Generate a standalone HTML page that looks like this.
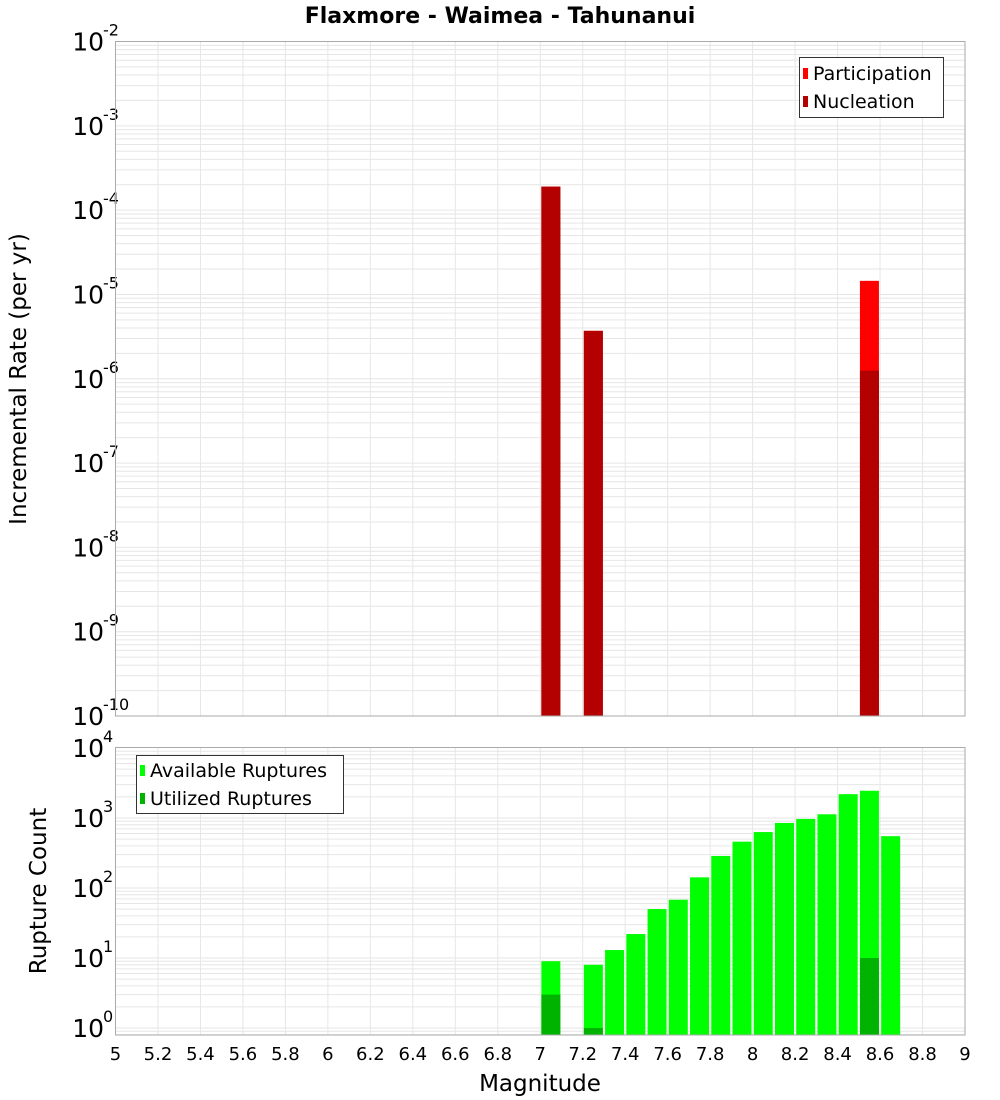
<!DOCTYPE html>
<html><head><meta charset="utf-8"><style>
body{margin:0;background:#fff;}
svg{display:block;font-family:"DejaVu Sans","Liberation Sans",sans-serif;}
</style></head><body>
<svg id="chart" width="1000" height="1100" viewBox="0 0 1000 1100">
<text x="500" y="23" text-anchor="middle" font-size="22" font-weight="bold">Flaxmore - Waimea - Tahunanui</text>
<g id="top"></g>
<g id="bot"></g>
</svg>
<script>
// Top panel data
const rateMags = [7.0, 7.2, 8.5];
const participation = [1.9e-4, 3.7e-6, 1.45e-5];
const nucleation = [1.9e-4, 3.7e-6, 1.25e-6];
// Bottom panel data
const countMags = [7.0, 7.2, 7.3, 7.4, 7.5, 7.6, 7.7, 7.8, 7.9, 8.0, 8.1, 8.2, 8.3, 8.4, 8.5, 8.6];
const available = [9, 8, 13, 22, 50, 68, 142, 287, 459, 630, 850, 970, 1130, 2190, 2450, 550];
const utilized = [3, 1, 0, 0, 0, 0, 0, 0, 0, 0, 0, 0, 0, 0, 10, 0];
const xTicks = ["5","5.2","5.4","5.6","5.8","6","6.2","6.4","6.6","6.8","7","7.2","7.4","7.6","7.8","8","8.2","8.4","8.6","8.8","9"];
const topExps = [-2,-3,-4,-5,-6,-7,-8,-9,-10];
const botExps = [4,3,2,1,0];

const NS="http://www.w3.org/2000/svg";
const X0=115.5, X1=965;
const xs = m => X0 + (m-5)/4*(X1-X0);
function mk(tag, attrs, parent){const e=document.createElementNS(NS,tag);for(const k in attrs)e.setAttribute(k,attrs[k]);parent.appendChild(e);return e;}

function panel(g, top, bottom, yOfLog, lmin, lmax, exps, name){
  mk('rect',{x:X0,y:top,width:X1-X0,height:bottom-top,fill:'#fff'},g);
  // minor/major horizontal grid
  for(let d=Math.floor(lmin); d<lmax; d++){
    for(let k=1;k<10;k++){
      const l=d+Math.log10(k); if(l<lmin||l>lmax) continue;
      const y=yOfLog(l);
      const ln=mk('line',{x1:X0,x2:X1,y1:y,y2:y,stroke:'#e6e6e6','stroke-width':1},g);
      
      
    }
  }
  xTicks.forEach(t=>{const x=xs(+t);
    const ln=mk('line',{x1:x,x2:x,y1:top,y2:bottom,stroke:'#e6e6e6','stroke-width':1},g);
    
    
  });
  exps.forEach(e=>{const y=yOfLog(e);
    const t=mk('text',{x:104,y:y+9,'text-anchor':'end','font-size':25},g);
    t.textContent='10';
    
    
    const s=mk('text',{x:103,y:y-6,'font-size':16},g);
    s.textContent=String(e);
    
    
  });
}

// Top panel
const T0=41.5, T1=716;
const ty = l => T0 + (-2 - l)*(T1-T0)/8;
const gt=document.getElementById('top');
panel(gt,T0,T1,ty,-10,-2,topExps,'rate');
const bw=19;
rateMags.forEach((m,i)=>{
  const x=xs(m+0.05)-bw/2;
  const yp=ty(Math.log10(participation[i])), yn=ty(Math.log10(nucleation[i]));
  const r1=mk('rect',{x:x,y:yp,width:bw,height:T1-yp,fill:'#ff0000'},gt);
  
  
  const r2=mk('rect',{x:x,y:yn,width:bw,height:T1-yn,fill:'#b30000'},gt);
  
  
});
mk('rect',{x:X0,y:T0,width:X1-X0,height:T1-T0,fill:'none',stroke:'#aaa','stroke-width':1},gt);
const yt1=mk('text',{x:0,y:0,'font-size':23,'text-anchor':'middle',transform:'translate(26,379) rotate(-90)'},gt);
yt1.textContent='Incremental Rate (per yr)';


// legend top
const lg1=mk('g',{},gt);


mk('rect',{x:799.5,y:57.5,width:144,height:60,fill:'#fff',stroke:'#333'},lg1);
mk('rect',{x:803,y:68,width:5,height:11,fill:'#ff0000'},lg1);
mk('rect',{x:803,y:96,width:5,height:11,fill:'#b30000'},lg1);
let lt=mk('text',{x:813,y:80,'font-size':19},lg1); lt.textContent='Participation';
lt=mk('text',{x:813,y:108,'font-size':19},lg1); lt.textContent='Nucleation';

// Bottom panel
const B0=747.5, B1=1035;
const by = l => 1028 - l*70;
const gb=document.getElementById('bot');
panel(gb,B0,B1,by,Math.log10(0.79),4,botExps,'count');
countMags.forEach((m,i)=>{
  const x=xs(m+0.05)-bw/2;
  const ya=by(Math.log10(available[i]));
  const r1=mk('rect',{x:x,y:ya,width:bw,height:B1-ya,fill:'#00ff00'},gb);
  
  
  if(utilized[i]>0){
    const yu=Math.min(by(Math.log10(utilized[i])),B1-7);
    const r2=mk('rect',{x:x,y:yu,width:bw,height:B1-yu,fill:'#00b300'},gb);
    
    
  }
});
mk('rect',{x:X0,y:B0,width:X1-X0,height:B1-B0,fill:'none',stroke:'#aaa','stroke-width':1},gb);
xTicks.forEach(t=>{
  const tx=mk('text',{x:xs(+t),y:1060,'font-size':18,'text-anchor':'middle'},gb);
  tx.textContent=t;
  
  
});
const xt=mk('text',{x:540,y:1091,'font-size':23,'text-anchor':'middle'},gb);
xt.textContent='Magnitude';


const yt2=mk('text',{x:0,y:0,'font-size':23,'text-anchor':'middle',transform:'translate(46,891) rotate(-90)'},gb);
yt2.textContent='Rupture Count';


const lg2=mk('g',{},gb);


mk('rect',{x:136.5,y:755.5,width:207,height:58,fill:'#fff',stroke:'#333'},lg2);
mk('rect',{x:140,y:765,width:5,height:11,fill:'#00ff00'},lg2);
mk('rect',{x:140,y:793,width:5,height:11,fill:'#00b300'},lg2);
lt=mk('text',{x:150,y:777,'font-size':19},lg2); lt.textContent='Available Ruptures';
lt=mk('text',{x:150,y:805,'font-size':19},lg2); lt.textContent='Utilized Ruptures';
</script>
</body></html>
